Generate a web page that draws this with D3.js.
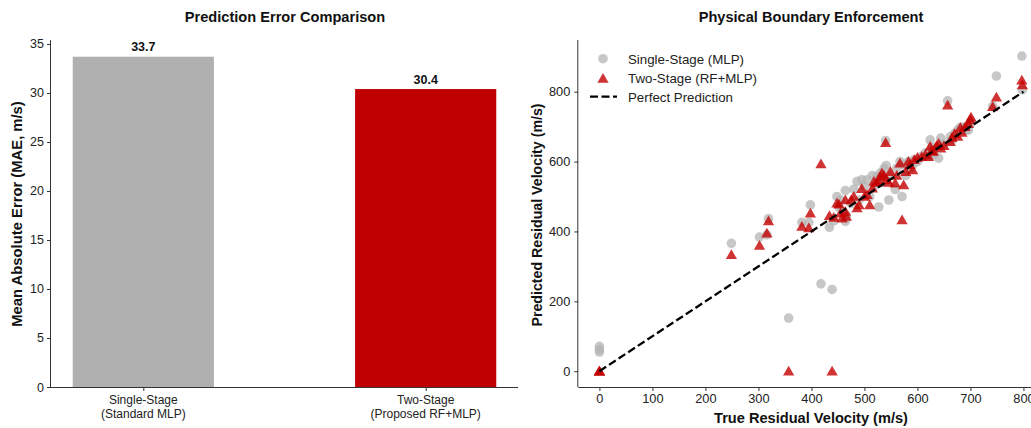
<!DOCTYPE html>
<html><head><meta charset="utf-8">
<script src="https://d3js.org/d3.v7.min.js"></script>
<style>
body{margin:0;background:#fff;}
svg{display:block;font-family:"Liberation Sans",Arial,sans-serif;}
</style></head>
<body><svg id="c" width="1031" height="428"></svg>
<script>
// ---- Bar chart data ----
const barCategories = [["Single-Stage","(Standard MLP)"],["Two-Stage","(Proposed RF+MLP)"]];
const barValues = [33.7, 30.4];
const barColors = ["#b0b0b0", "#c00000"];
const barYTicks = [0,5,10,15,20,25,30,35];

// ---- Scatter data: true residual velocity, single-stage prediction, two-stage prediction ----
const trueVel = [0,0,0,249,302,316,319,357,382,395,398,418,434,439,442,448,452,455,458,464,464,466,475,480,486,490,495,500,505,510,515,518,523,527,530,533,537,540,541,546,549,558,561,567,571,574,578,583,586,591,594,600,608,615,621,624,627,630,636,640,644,650,657,662,665,670,676,681,684,690,696,700,701,742,749,797,798];
const singlePred = [71,62,55,366,384,390,437,152,426,426,476,250,412,234,430,500,470,490,458,517,429,445,480,521,543,490,548,530,548,500,560,530,557,470,567,540,580,660,589,490,560,520,581,600,500,590,560,600,580,590,605,600,615,625,614,662,640,620,640,610,667,650,774,671,660,680,690,698,698,690,690,708,715,759,845,902,805];
const twoPred = [0,0,0,333,360,395,430,0,414,410,452,593,445,0,440,481,478,452,438,490,457,443,490,500,467,476,522,500,505,476,524,543,540,543,557,567,560,654,548,540,571,538,560,595,433,533,571,600,590,576,605,612,614,620,614,643,630,629,645,652,638,645,761,657,668,680,672,697,683,700,708,719,727,757,784,833,819];
const xTicksR = [0,100,200,300,400,500,600,700,800];
const yTicksR = [0,200,400,600,800];
const legendLabels = ["Single-Stage (MLP)","Two-Stage (RF+MLP)","Perfect Prediction"];

const svg = d3.select("#c");
const axisColor = "#333";

// ================= Left: bar chart =================
const xL = d3.scalePoint().domain(d3.range(barValues.length)).range([51,518]).padding(0.327);
const yL = d3.scaleLinear().domain([0,35.385]).range([387,40.2]);
const bw = xL.step()*0.5;
const gL = svg.append("g");

gL.selectAll("rect.bar").data(barValues).join("rect")
  .attr("x",(d,i)=>xL(i)-bw/2).attr("y",d=>yL(d))
  .attr("width",bw).attr("height",d=>yL(0)-yL(d))
  .attr("fill",(d,i)=>barColors[i]);

gL.selectAll("text.val").data(barValues).join("text")
  .attr("x",(d,i)=>xL(i)).attr("y",d=>yL(d)-5.5)
  .attr("text-anchor","middle").attr("font-size","12.5px").attr("font-weight","bold").attr("fill","#111")
  .text(d=>d.toFixed(1));

const axL = gL.append("g").attr("transform","translate(51,0)")
  .call(d3.axisLeft(yL).tickValues(barYTicks).tickSize(4).tickPadding(3).tickFormat(d3.format("d")));
const axB = gL.append("g").attr("transform","translate(0,387)")
  .call(d3.axisBottom(xL).tickSize(4).tickFormat(""));
[axL,axB].forEach(a=>{a.select(".domain").attr("stroke",axisColor);a.selectAll(".tick line").attr("stroke",axisColor);
  a.selectAll(".tick text").attr("font-size","12.5px").attr("fill","#222").attr("font-family","Liberation Sans, Arial, sans-serif");});
axB.select(".domain").attr("d","M51,0.5H518");
axL.select(".domain").attr("d","M-0.5,40.2V387");

gL.selectAll("text.cat").data(barCategories).join("text")
  .attr("x",(d,i)=>xL(i)).attr("y",404)
  .attr("text-anchor","middle").attr("font-size","12px").attr("fill","#222")
  .each(function(d){
    const t=d3.select(this);
    d.forEach((s,j)=>t.append("tspan").attr("x",t.attr("x")).attr("dy",j?14:0).text(s));
  });

gL.append("text").attr("x",285).attr("y",22).attr("text-anchor","middle")
  .attr("font-size","14.6px").attr("font-weight","bold").attr("fill","#111").text("Prediction Error Comparison");
gL.append("text").attr("transform","translate(22,214) rotate(-90)").attr("text-anchor","middle")
  .attr("font-size","14.8px").attr("font-weight","bold").attr("fill","#111").text("Mean Absolute Error (MAE, m/s)");

// ================= Right: scatter =================
const xR = d3.scaleLinear().domain([-39.85,836.9]).range([578.3,1043]);
const yR = d3.scaleLinear().domain([-45.2,948]).range([387,40]);
const gR = svg.append("g");

const axRL = gR.append("g").attr("transform","translate(578.3,0)")
  .call(d3.axisLeft(yR).tickValues(yTicksR).tickSize(4).tickPadding(4));
const axRB = gR.append("g").attr("transform","translate(0,387)")
  .call(d3.axisBottom(xR).tickValues(xTicksR).tickSize(4).tickPadding(3));
[axRL,axRB].forEach(a=>{a.select(".domain").attr("stroke",axisColor);a.selectAll(".tick line").attr("stroke",axisColor);
  a.selectAll(".tick text").attr("font-size","12.8px").attr("fill","#222").attr("font-family","Liberation Sans, Arial, sans-serif");});
axRL.select(".domain").attr("d","M-0.5,40V387");
axRB.select(".domain").attr("d","M578.3,0.5H1043");

const pts = trueVel.map((t,i)=>({t, s:singlePred[i], r:twoPred[i]}));
gR.selectAll("circle.s").data(pts).join("circle")
  .attr("cx",d=>xR(d.t)).attr("cy",d=>yR(d.s)).attr("r",4.8)
  .attr("fill","#b4b4b4").attr("fill-opacity",0.75);
const tri = d3.symbol().type(d3.symbolTriangle).size(55);
gR.selectAll("path.r").data(pts).join("path")
  .attr("d",tri).attr("transform",d=>`translate(${xR(d.t)},${yR(d.r)+1})`)
  .attr("fill","#c40000").attr("fill-opacity",0.8);

gR.append("line").attr("x1",xR(0)).attr("y1",yR(0)).attr("x2",xR(800)).attr("y2",yR(800))
  .attr("stroke","#000").attr("stroke-width",2.3).attr("stroke-dasharray","8,3.5");

// legend
const lg = gR.append("g");
lg.append("circle").attr("cx",603).attr("cy",58.7).attr("r",4.8).attr("fill","#b4b4b4").attr("fill-opacity",0.75);
lg.append("path").attr("d",tri).attr("transform","translate(603,79.5)").attr("fill","#c40000").attr("fill-opacity",0.8);
lg.append("line").attr("x1",590).attr("x2",617).attr("y1",96.7).attr("y2",96.7)
  .attr("stroke","#000").attr("stroke-width",2.3).attr("stroke-dasharray","8,3.5");
lg.selectAll("text").data(legendLabels).join("text")
  .attr("x",628).attr("y",(d,i)=>63.5+i*19).attr("font-size","13.3px").attr("fill","#222").text(d=>d);

gR.append("text").attr("x",811).attr("y",22).attr("text-anchor","middle")
  .attr("font-size","14.6px").attr("font-weight","bold").attr("fill","#111").text("Physical Boundary Enforcement");
gR.append("text").attr("x",811).attr("y",423).attr("text-anchor","middle")
  .attr("font-size","14.6px").attr("font-weight","bold").attr("fill","#111").text("True Residual Velocity (m/s)");
gR.append("text").attr("transform","translate(542,215) rotate(-90)").attr("text-anchor","middle")
  .attr("font-size","14.2px").attr("font-weight","bold").attr("fill","#111").text("Predicted Residual Velocity (m/s)");
</script></body></html>
